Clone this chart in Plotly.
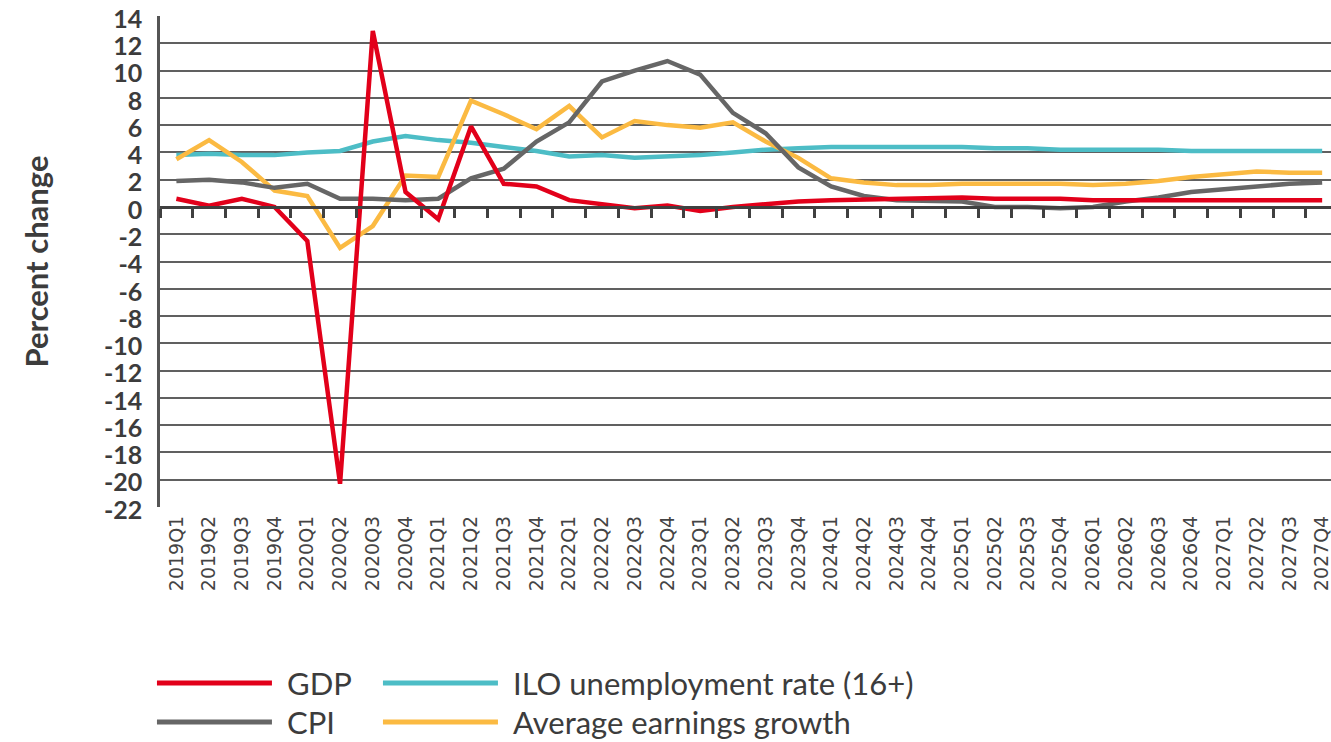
import plotly.graph_objects as go

# -----------------------------
# Data
# -----------------------------
quarters = [f"{y}Q{q}" for y in range(2019, 2028) for q in range(1, 5)]

gdp = [0.6, 0.1, 0.6, 0.0, -2.5, -20.3, 12.9, 1.1, -0.9, 5.9,
       1.7, 1.5, 0.5, 0.2, -0.1, 0.1, -0.3, 0.0, 0.2, 0.4,
       0.5, 0.55, 0.65, 0.7, 0.7, 0.6, 0.6, 0.6, 0.5, 0.5,
       0.5, 0.5, 0.5, 0.5, 0.5, 0.5]

cpi = [1.9, 2.0, 1.8, 1.4, 1.7, 0.6, 0.6, 0.5, 0.6, 2.1,
       2.8, 4.8, 6.2, 9.2, 10.0, 10.7, 9.7, 6.9, 5.4, 2.9,
       1.5, 0.8, 0.5, 0.45, 0.4, 0.0, 0.0, -0.1, 0.0, 0.4,
       0.7, 1.1, 1.3, 1.5, 1.7, 1.8]

ilo = [3.8, 3.9, 3.8, 3.8, 4.0, 4.1, 4.8, 5.2, 4.9, 4.7,
       4.4, 4.1, 3.7, 3.8, 3.6, 3.7, 3.8, 4.0, 4.2, 4.3,
       4.4, 4.4, 4.4, 4.4, 4.4, 4.3, 4.3, 4.2, 4.2, 4.2,
       4.2, 4.1, 4.1, 4.1, 4.1, 4.1]

earnings = [3.5, 4.9, 3.3, 1.2, 0.8, -3.0, -1.4, 2.3, 2.2, 7.8,
            6.8, 5.7, 7.4, 5.1, 6.3, 6.0, 5.8, 6.2, 4.8, 3.6,
            2.1, 1.8, 1.6, 1.6, 1.7, 1.7, 1.7, 1.7, 1.6, 1.7,
            1.9, 2.2, 2.4, 2.6, 2.5, 2.5]

series = [
    ("GDP", gdp, "#e2001a"),
    ("CPI", cpi, "#666666"),
    ("ILO unemployment rate (16+)", ilo, "#4dbdc6"),
    ("Average earnings growth", earnings, "#fbba42"),
]

y_ticks = list(range(-22, 15, 2))
y_labels = [str(v) for v in y_ticks]   # plain hyphen like the original
TEXT = "#3c3c3c"
GRID = "#606060"

# -----------------------------
# Figure
# -----------------------------
fig = go.Figure()

# draw grey lines first so red sits on top like the original
for name, vals, col in [series[2], series[3], series[1], series[0]]:
    fig.add_trace(go.Scatter(x=quarters, y=vals, name=name, mode="lines",
                             line=dict(color=col, width=4.5),
                             showlegend=False))

# invisible trace so the zero-line axis (x2) gets its category ticks
fig.add_trace(go.Scatter(x=quarters, y=[0] * len(quarters), xaxis="x2",
                         mode="lines", line=dict(width=0), opacity=0,
                         showlegend=False, hoverinfo="skip"))

x_range = [-0.5, 35.27]
zero_pos = (0 - y_ticks[0]) / (14 - y_ticks[0])

fig.update_layout(
    width=1331, height=742, autosize=False,
    margin=dict(l=160, r=0, t=16, b=235),
    plot_bgcolor="white", paper_bgcolor="white",
    font=dict(family="Lato", color=TEXT),
    xaxis=dict(type="category", categoryarray=quarters, range=x_range,
               tickangle=-90, showgrid=False, showline=False, ticks="",
               tickfont=dict(family="DejaVu Sans", size=19, color="#444"),
               ticklabelstandoff=4),
    xaxis2=dict(type="category", categoryarray=quarters, range=x_range,
                overlaying="x", anchor="free", position=zero_pos,
                showticklabels=False, showgrid=False,
                showline=True, linecolor="#404040", linewidth=3,
                ticks="outside", tickson="boundaries", ticklen=9,
                tickwidth=2.5, tickcolor="#404040"),
    yaxis=dict(range=[-22, 14], tickvals=y_ticks, ticktext=y_labels,
               showgrid=True, gridcolor=GRID, gridwidth=1.6, zeroline=False,
               showline=True, linecolor="#555", linewidth=2.5,
               tickfont=dict(family="Lato", size=25, color=TEXT, weight="bold"),
               ticklabelstandoff=10, ticklabelshift=3,
               ticklabeloverflow="allow"),
)

# y axis title
fig.add_annotation(text="Percent change", textangle=-90, xref="paper", yref="paper",
                   x=-0.1059, y=0.5, xanchor="center", yanchor="middle",
                   showarrow=False, font=dict(family="Lato", size=31, color=TEXT, weight="bold"))

# legend, two columns like the original
legend_pos = [(-0.0026, -0.3585), (-0.0026, -0.4379), (0.1904, -0.3585), (0.1904, -0.4379)]
for (name, vals, col), (lx, ly) in zip(series, legend_pos):
    fig.add_shape(type="line", xref="paper", yref="paper",
                  x0=lx, x1=lx + 0.0982, y0=ly, y1=ly,
                  line=dict(color=col, width=5))
    fig.add_annotation(text=name, xref="paper", yref="paper", x=lx + 0.1093, y=ly,
                       xanchor="left", yanchor="middle", showarrow=False,
                       font=dict(family="Lato", size=31, color=TEXT))

fig.write_html("out.html", config={"displayModeBar": False},
               post_script="document.body.style.margin='0';")
